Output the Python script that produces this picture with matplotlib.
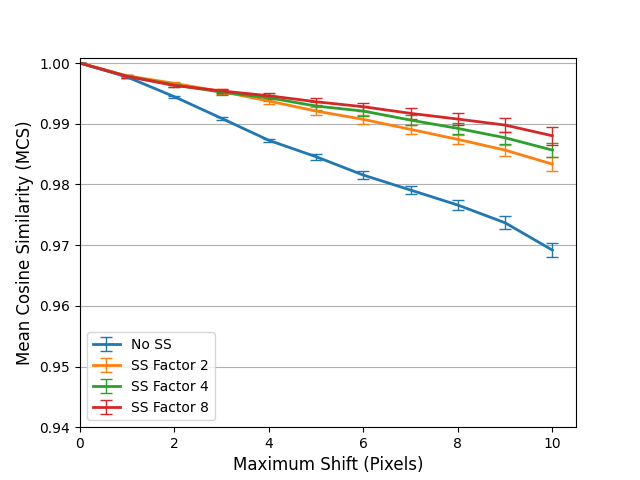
import matplotlib
matplotlib.use("Agg")
import matplotlib.pyplot as plt
import numpy as np

shifts = [0, 1, 2, 3, 4, 5, 6, 7, 8, 9, 10]

no_ss = [1.0, 0.9977, 0.99445, 0.99088, 0.98726, 0.98456, 0.98154, 0.97907, 0.97660, 0.97368, 0.96918]
no_ss_err = [0.0, 0.0002, 0.0002, 0.0003, 0.0003, 0.0005, 0.0007, 0.0007, 0.0008, 0.0011, 0.0011]

ss2 = [1.0, 0.9979, 0.99665, 0.9953, 0.99374, 0.99209, 0.99072, 0.98907, 0.98742, 0.98566, 0.98335]
ss2_err = [0.0, 0.0002, 0.0003, 0.0004, 0.0005, 0.0006, 0.0008, 0.0008, 0.00075, 0.0009, 0.0012]

ss4 = [1.0, 0.9978, 0.9964, 0.9952, 0.99428, 0.99291, 0.99209, 0.99060, 0.98923, 0.98769, 0.98566]
ss4_err = [0.0, 0.0002, 0.0003, 0.0004, 0.0005, 0.0006, 0.0008, 0.0008, 0.0009, 0.0010, 0.0012]

ss8 = [1.0, 0.9978, 0.9963, 0.9954, 0.99461, 0.99362, 0.99280, 0.99171, 0.99077, 0.98978, 0.98802]
ss8_err = [0.0, 0.0002, 0.0003, 0.0004, 0.0005, 0.0006, 0.0007, 0.0009, 0.0010, 0.0012, 0.00145]

series = [
    ("No SS", no_ss, no_ss_err),
    ("SS Factor 2", ss2, ss2_err),
    ("SS Factor 4", ss4, ss4_err),
    ("SS Factor 8", ss8, ss8_err),
]

fig, ax = plt.subplots(figsize=(6.4, 4.8), dpi=100)
for label, vals, err in series:
    ax.errorbar(shifts, vals, yerr=err, label=label, linewidth=2,
                elinewidth=1, capsize=4)

ax.set_xlim(0, 10.5)
ax.set_ylim(0.94, 1.0009)
ax.yaxis.grid(True, color="#b0b0b0")
ax.set_axisbelow(True)
ax.set_xlabel("Maximum Shift (Pixels)", fontsize=12)
ax.set_ylabel("Mean Cosine Similarity (MCS)", fontsize=12)
ax.legend(loc="lower left")
fig.savefig("out.png")
